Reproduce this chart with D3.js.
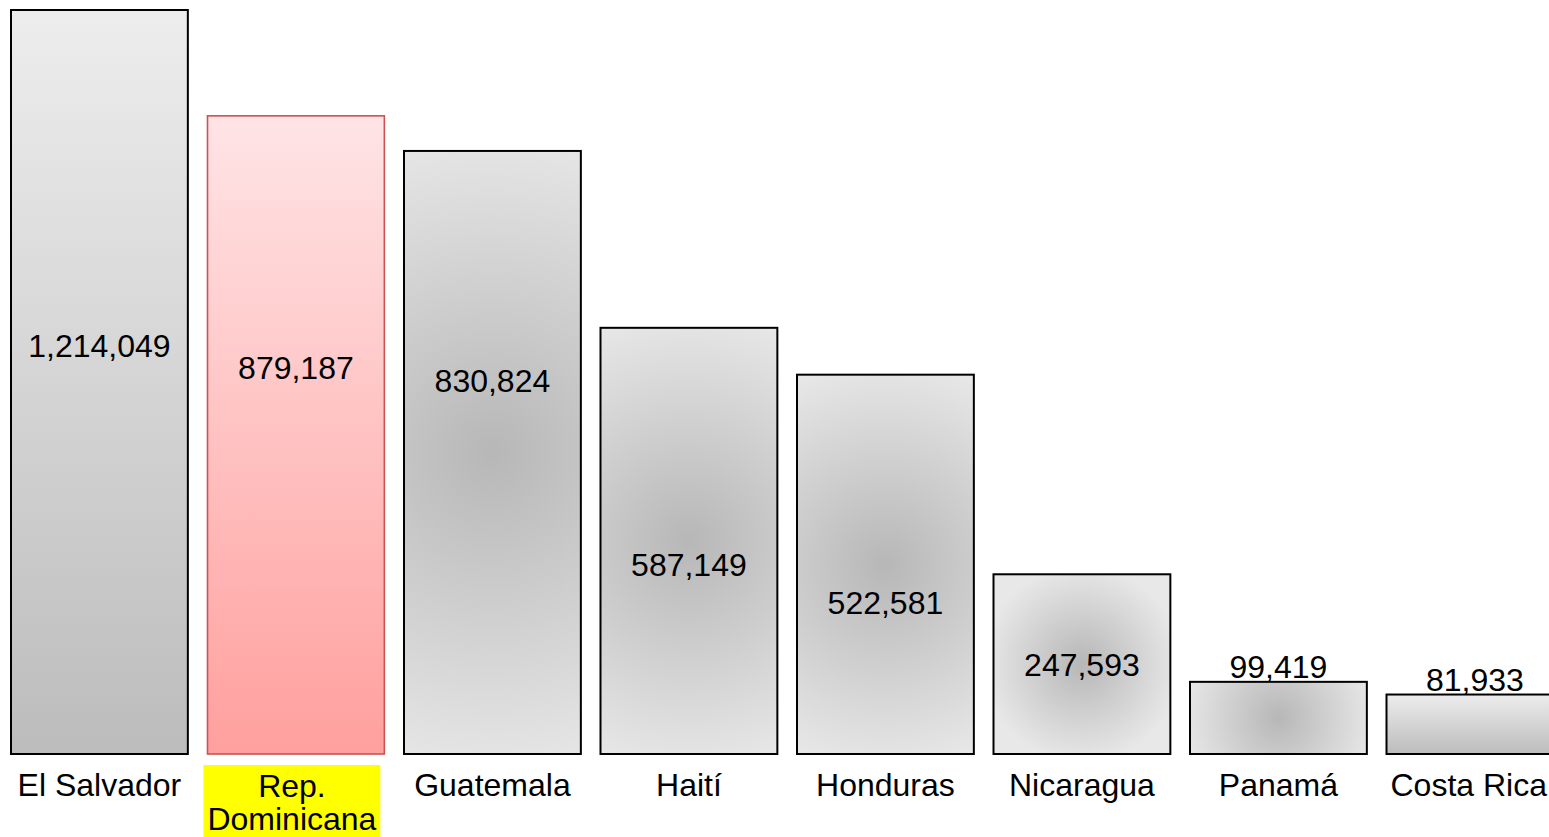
<!DOCTYPE html>
<html>
<head>
<meta charset="utf-8">
<script src="https://cdn.jsdelivr.net/npm/d3@7/dist/d3.min.js"></script>
<style>
  html, body { margin: 0; padding: 0; background: #ffffff; overflow: hidden; }
  svg { display: block; }
  text { font-family: "Liberation Sans", Arial, Helvetica, sans-serif; fill: #000; }
</style>
</head>
<body>
<svg id="chart" width="1549" height="837"></svg>
<script>
// ---- data ----
const categories = ["El Salvador", "Rep. Dominicana", "Guatemala", "Haití", "Honduras", "Nicaragua", "Panamá", "Costa Rica"];
const values = [1214049, 879187, 830824, 587149, 522581, 247593, 99419, 81933];
const valueLabels = ["1,214,049", "879,187", "830,824", "587,149", "522,581", "247,593", "99,419", "81,933"];
const highlighted = ["Rep. Dominicana"];

// ---- layout / style (not data) ----
const fillKind = ["linearGray", "linearRed", "radial", "radial", "radial", "radial", "radial", "linearGray"];
const labelFrac = [0.466, 0.413, 0.399, 0.583, 0.630, 0.567, null, null]; // baseline as fraction of bar height from top; null = above bar

const W = 1549, H = 837;
const FS = 32;
const svg = d3.select("#chart");

const x = d3.scaleBand()
  .domain(categories)
  .range([11, 11 + 196.5 * 7.9])
  .paddingInner(0.1)
  .paddingOuter(0);

const y = d3.scaleLinear()
  .domain([0, 1025000])
  .range([754, 10])
  .clamp(true);

const defs = svg.append("defs");

const lg = defs.append("linearGradient").attr("id", "linearGray")
  .attr("x1", 0).attr("y1", 0).attr("x2", 0).attr("y2", 1);
lg.append("stop").attr("offset", "0%").attr("stop-color", "#ededed");
lg.append("stop").attr("offset", "100%").attr("stop-color", "#bcbcbc");

const lr = defs.append("linearGradient").attr("id", "linearRed")
  .attr("x1", 0).attr("y1", 0).attr("x2", 0).attr("y2", 1);
lr.append("stop").attr("offset", "0%").attr("stop-color", "#ffe4e6");
lr.append("stop").attr("offset", "100%").attr("stop-color", "#ffa09e");

const rows = categories.map((c, i) => ({ c, i, v: values[i], lab: valueLabels[i], kind: fillKind[i], frac: labelFrac[i] }));

// per-bar circular radial gradients (user space)
rows.filter(d => d.kind === "radial").forEach(d => {
  const bx = x(d.c), by = y(d.v), bw = x.bandwidth(), bh = y(0) - y(d.v);
  const r = Math.max(bw, bh) * 0.55;
  const rg = defs.append("radialGradient").attr("id", "radial" + d.i)
    .attr("gradientUnits", "userSpaceOnUse")
    .attr("cx", bx + bw / 2).attr("cy", by + bh / 2).attr("r", r);
  rg.append("stop").attr("offset", "0%").attr("stop-color", "#b7b7b7");
  rg.append("stop").attr("offset", "100%").attr("stop-color", "#e8e8e8");
});

const g = svg.append("g");

g.selectAll("rect.bar")
  .data(rows)
  .join("rect")
  .attr("class", "bar")
  .attr("x", d => x(d.c))
  .attr("y", d => y(d.v))
  .attr("width", x.bandwidth())
  .attr("height", d => y(0) - y(d.v))
  .attr("fill", d => d.kind === "radial" ? `url(#radial${d.i})` : `url(#${d.kind})`)
  .attr("stroke", d => highlighted.includes(d.c) ? "#cc5252" : "#000")
  .attr("stroke-width", d => highlighted.includes(d.c) ? 1.6 : 2);

// value labels
g.selectAll("text.val")
  .data(rows)
  .join("text")
  .attr("class", "val")
  .attr("text-anchor", "middle")
  .attr("font-size", FS)
  .attr("x", d => x(d.c) + x.bandwidth() / 2)
  .attr("y", d => {
    const top = y(d.v), h = y(0) - y(d.v);
    return d.frac == null ? top - 4 : top + h * d.frac;
  })
  .text(d => d.lab);

// highlight box behind highlighted category label
rows.filter(d => highlighted.includes(d.c)).forEach(d => {
  g.append("rect")
    .attr("x", x(d.c) - 4)
    .attr("y", 765)
    .attr("width", x.bandwidth())
    .attr("height", H - 765)
    .attr("fill", "#ffff00");
});

// category labels
rows.forEach(d => {
  const cx = x(d.c) + x.bandwidth() / 2;
  if (highlighted.includes(d.c)) {
    const parts = d.c.split(" ");
    const t = g.append("text").attr("text-anchor", "middle").attr("font-size", FS);
    t.append("tspan").attr("x", cx - 4).attr("y", 797).text(parts[0]);
    t.append("tspan").attr("x", cx - 4).attr("y", 830).text(parts.slice(1).join(" "));
  } else {
    const t = g.append("text")
      .attr("text-anchor", "middle")
      .attr("font-size", FS)
      .attr("x", cx)
      .attr("y", 796)
      .text(d.c);
    const tw = t.node().getComputedTextLength();
    if (cx + tw / 2 > W - 2) t.attr("x", W - 2 - tw / 2);
  }
});
</script>
</body>
</html>
